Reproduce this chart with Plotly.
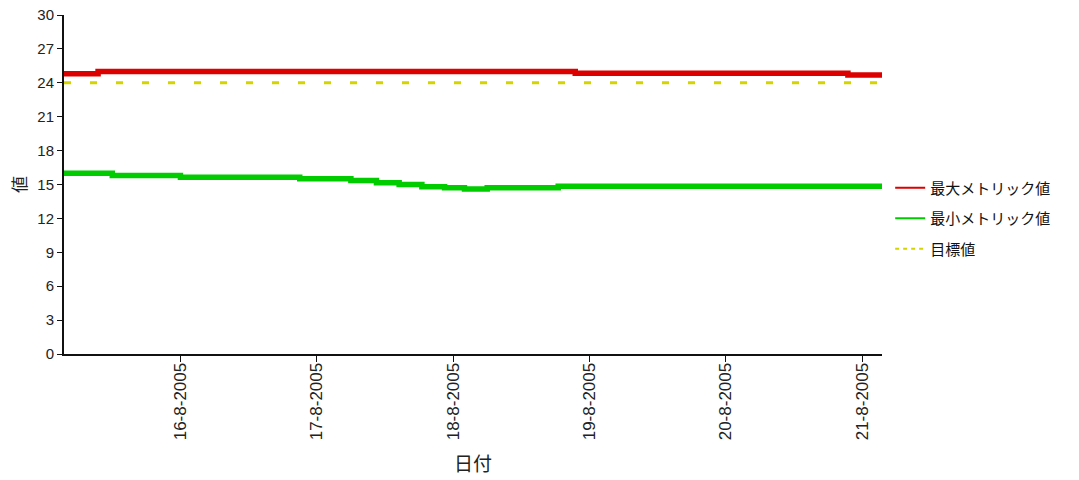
import plotly.graph_objects as go

# Daily metric summary, 15-21 Aug 2005
max_times = ["2005-08-15 03:30", "2005-08-15 09:30", "2005-08-18 21:30",
             "2005-08-20 21:30", "2005-08-21 03:30"]
max_values = [24.8, 25.0, 24.85, 24.7, 24.7]

min_times = ["2005-08-15 03:30", "2005-08-15 12:00", "2005-08-16 00:00",
             "2005-08-16 21:00", "2005-08-17 06:00", "2005-08-17 10:30",
             "2005-08-17 14:30", "2005-08-17 18:30", "2005-08-17 22:30",
             "2005-08-18 02:00", "2005-08-18 06:00", "2005-08-18 18:30",
             "2005-08-21 03:30"]
min_values = [16.0, 15.8, 15.65, 15.5, 15.35, 15.15, 15.0, 14.8, 14.72,
              14.6, 14.72, 14.85, 14.85]

target_times = ["2005-08-15 03:30", "2005-08-21 03:30"]
target_values = [24.0, 24.0]

tick_dates = ["2005-08-16", "2005-08-17", "2005-08-18",
              "2005-08-19", "2005-08-20", "2005-08-21"]
tick_labels = ["16-8-2005", "17-8-2005", "18-8-2005",
               "19-8-2005", "20-8-2005", "21-8-2005"]
y_ticks = list(range(0, 31, 3))

series_names = ["最大メトリック値", "最小メトリック値", "目標値"]
series_colors = ["#dd0000", "#00cc00", "#d4d400"]

FONT = "Liberation Sans, Noto Sans CJK JP, sans-serif"

fig = go.Figure()
fig.add_trace(go.Scatter(x=max_times, y=max_values, showlegend=False,
                         mode="lines", line=dict(color=series_colors[0], width=5.5, shape="hv")))
fig.add_trace(go.Scatter(x=min_times, y=min_values, showlegend=False,
                         mode="lines", line=dict(color=series_colors[1], width=5.5, shape="hv")))
fig.add_trace(go.Scatter(x=target_times, y=target_values, showlegend=False,
                         mode="lines", line=dict(color=series_colors[2], width=3, dash="7px,19px")))

# thin legend keys, one group each so the rows can be spaced apart
for name, color, dash in zip(series_names, series_colors, ["solid", "solid", "4px,4px"]):
    fig.add_trace(go.Scatter(x=[None], y=[None], name=name, mode="lines",
                             legendgroup=name,
                             line=dict(color=color, width=2, dash=dash)))

fig.update_layout(
    width=1079, height=480,
    margin=dict(l=64, r=197, t=15, b=126, autoexpand=False),
    paper_bgcolor="white", plot_bgcolor="white",
    font=dict(family=FONT, size=14, color="#111"),
    showlegend=True,
    legend=dict(x=1.01, y=0.40, xanchor="left", yanchor="middle",
                font=dict(size=15, color="#111"), tracegroupgap=8,
                itemwidth=30, bgcolor="rgba(0,0,0,0)"),
    xaxis=dict(
        type="date", automargin=False,
        range=["2005-08-15 03:30", "2005-08-21 03:30"],
        tickvals=tick_dates, ticktext=tick_labels, tickangle=-90,
        tickfont=dict(size=17, color="#222"),
        ticklabelstandoff=-6,
        showgrid=False, zeroline=False,
        showline=True, linecolor="#111", linewidth=2,
        ticks="outside", ticklen=6, tickcolor="#111",
        title=dict(text="日付", font=dict(size=19, color="#222"), standoff=18),
    ),
    yaxis=dict(
        range=[0, 30], tickvals=y_ticks, automargin=False,
        tickfont=dict(size=15, color="#222"),
        showgrid=False, zeroline=False,
        showline=True, linecolor="#111", linewidth=2,
        ticks="outside", ticklen=5, tickcolor="#111",
        title=dict(text="値", font=dict(size=17, color="#222"), standoff=6),
    ),
)

fig.write_html("out.html")
